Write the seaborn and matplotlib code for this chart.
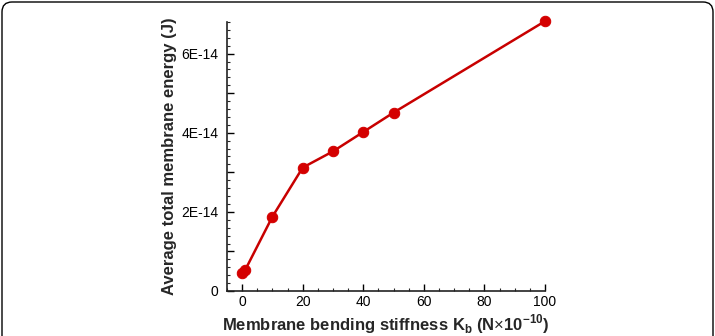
import numpy as np
import pandas as pd
import matplotlib
matplotlib.use("Agg")
import matplotlib.pyplot as plt
import seaborn as sns
from matplotlib.ticker import MultipleLocator, FuncFormatter
from matplotlib.patches import FancyBboxPatch

# datos
rigidez = [0, 1, 10, 20, 30, 40, 50, 100]
energia = [0.46e-14, 0.53e-14, 1.88e-14, 3.12e-14, 3.53e-14, 4.02e-14, 4.51e-14, 6.82e-14]

df = pd.DataFrame({"kb": rigidez, "energia": energia})

sns.set_style("ticks")
plt.rcParams["font.family"] = ["Liberation Sans", "DejaVu Sans"]
plt.rcParams["mathtext.fontset"] = "custom"
plt.rcParams["mathtext.rm"] = "Liberation Sans"
plt.rcParams["mathtext.bf"] = "Liberation Sans:bold"

fig = plt.figure(figsize=(7.15, 3.36), dpi=100)
# ejes: x de 227 a 545 px, y de 291 a 22 px
ax = fig.add_axes([227 / 715, 45 / 336, 318 / 715, 269 / 336])

sns.lineplot(data=df, x="kb", y="energia", ax=ax, color="#c80000", linewidth=1.8,
             marker="o", markersize=7.5, markeredgecolor="#d40000",
             markerfacecolor="#d40000", clip_on=False)

ax.set_xlim(-5, 100)
ax.set_ylim(0, 6.8e-14)

ax.xaxis.set_major_locator(MultipleLocator(20))
ax.xaxis.set_minor_locator(MultipleLocator(5))
ax.yaxis.set_major_locator(MultipleLocator(1e-14))
ax.yaxis.set_minor_locator(MultipleLocator(0.2e-14))

def etiqueta_y(v, pos):
    n = int(round(v / 1e-14))
    if n == 0:
        return "0"
    if n % 2 == 0:
        return f"{n}E-14"
    return ""

ax.yaxis.set_major_formatter(FuncFormatter(etiqueta_y))

ax.tick_params(which="major", direction="in", length=5, width=1, labelsize=10,
               colors="black", pad=6)
ax.tick_params(axis="x", which="major", pad=3)
ax.tick_params(which="minor", direction="in", length=2.5, width=0.8)

sns.despine(ax=ax)
for s in ["left", "bottom"]:
    ax.spines[s].set_linewidth(1.2)
    ax.spines[s].set_color("#222222")

ax.set_xlabel(r"Membrane bending stiffness K$_\mathbf{b}$ (N$\times$10$^\mathbf{-10}$)",
              fontsize=12, fontweight="bold")
ax.xaxis.set_label_coords(0.5, -0.078)
ax.set_ylabel("Average total membrane energy (J)", fontsize=12, fontweight="bold", labelpad=3)

# marco redondeado de la imagen (solo se ve la parte de arriba)
marco = FancyBboxPatch((2, -60), 711, 394, boxstyle="round,pad=0,rounding_size=10",
                       transform=None, facecolor="none", edgecolor="black", linewidth=1.0)
fig.add_artist(marco)

fig.savefig("out.png", dpi=100)
